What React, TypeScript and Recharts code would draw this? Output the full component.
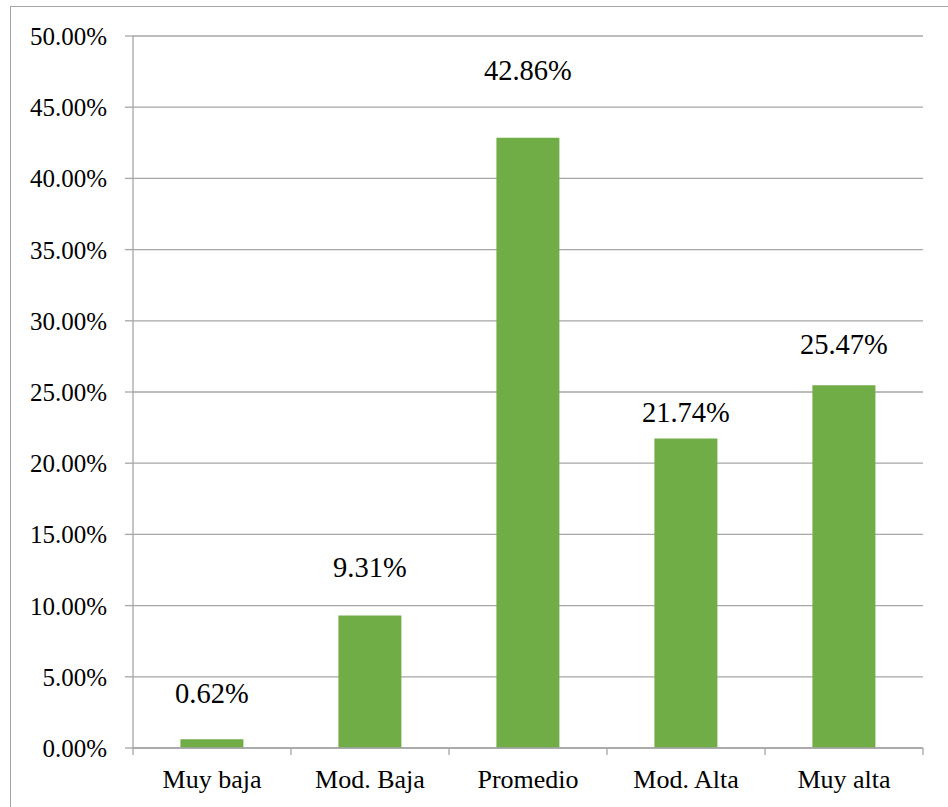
import React from "react";
import { BarChart, Bar, XAxis, YAxis, CartesianGrid, LabelList } from "recharts";

const categories = ["Muy baja", "Mod. Baja", "Promedio", "Mod. Alta", "Muy alta"];
const percentages = [0.62, 9.31, 42.86, 21.74, 25.47];
const yTicks = [0, 5, 10, 15, 20, 25, 30, 35, 40, 45, 50];

// how far each value label sits above its bar (baseline gap, px)
const labelLift = [36, 38, 58, 16, 31];

const data = categories.map((name, i) => ({ name, value: percentages[i] }));

const W = 948;
const H = 807;
const MARGIN = { top: 36, right: 25, left: 10, bottom: 0 };
const Y_AXIS_W = 123;
const X_AXIS_H = 59;
const PLOT_W = W - MARGIN.left - MARGIN.right - Y_AXIS_W;
const BAND = PLOT_W / categories.length;

const FONT = "'Liberation Serif', 'Times New Roman', serif";
const GRID = "#a6a6a6";
const GREEN = "#70ad47";

const pct = (v: number) => `${v.toFixed(2)}%`;

function CategoryTick(props: any) {
  const { x, y, payload, index } = props;
  const left = x - BAND / 2;
  return (
    <g>
      <line x1={left} y1={y - 8} x2={left} y2={y - 1} stroke={GRID} strokeWidth={1.3} />
      {index === categories.length - 1 && (
        <line x1={x + BAND / 2} y1={y - 8} x2={x + BAND / 2} y2={y - 1} stroke={GRID} strokeWidth={1.3} />
      )}
      <text x={x} y={y + 32} textAnchor="middle" fill="#000" style={{ fontFamily: FONT, fontSize: 26 }}>
        {payload.value}
      </text>
    </g>
  );
}

function AmountTick(props: any) {
  const { x, y, payload } = props;
  return (
    <text x={x} y={y + 9} textAnchor="end" fill="#000" style={{ fontFamily: FONT, fontSize: 25 }}>
      {pct(payload.value)}
    </text>
  );
}

function ValueLabel(props: any) {
  const { x, y, width, value, index } = props;
  return (
    <text x={x + width / 2} y={y - labelLift[index]} textAnchor="middle" fill="#000" style={{ fontFamily: FONT, fontSize: 28.5 }}>
      {pct(value)}
    </text>
  );
}

export default function App() {
  return (
    <div style={{ position: "absolute", left: 0, top: 0, width: W, height: H, overflow: "hidden", background: "#fff", fontFamily: FONT }}>
      <div
        style={{
          position: "absolute",
          left: 10,
          top: 6,
          width: W,
          height: H,
          borderLeft: `1.5px solid ${GRID}`,
          borderTop: `1.5px solid ${GRID}`,
        }}
      />
      <div style={{ position: "absolute", left: 0, top: 0 }}>
        <BarChart width={W} height={H} data={data} margin={MARGIN} barCategoryGap="30%">
          <CartesianGrid vertical={false} stroke={GRID} strokeWidth={1.3} />
          <XAxis
            dataKey="name"
            height={X_AXIS_H}
            axisLine={{ stroke: GRID, strokeWidth: 1.3 }}
            tickLine={false}
            interval={0}
            tick={<CategoryTick />}
          />
          <YAxis
            width={Y_AXIS_W}
            domain={[0, 50]}
            ticks={yTicks}
            axisLine={{ stroke: GRID, strokeWidth: 1.3 }}
            tickLine={{ stroke: GRID, strokeWidth: 1.3 }}
            tickSize={8}
            tickMargin={18}
            tick={<AmountTick />}
          />
          <Bar dataKey="value" fill={GREEN} isAnimationActive={false}>
            <LabelList dataKey="value" content={<ValueLabel />} />
          </Bar>
        </BarChart>
      </div>
    </div>
  );
}
